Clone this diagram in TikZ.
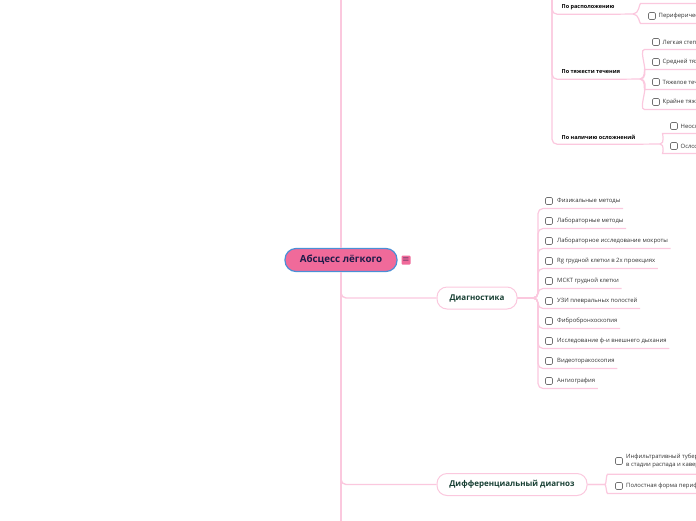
\documentclass[tikz,border=0pt]{standalone}
\usepackage{fontspec}
\setmainfont{Open Sans}
\usetikzlibrary{positioning}
\definecolor{linkpink}{HTML}{FBC8DE}
\definecolor{rootpink}{HTML}{F06A9A}
\definecolor{rootblue}{HTML}{4A8FD6}
\definecolor{rootink}{HTML}{1E1C4A}
\definecolor{branchink}{HTML}{173F33}
\definecolor{leafink}{HTML}{333333}
\definecolor{boxgray}{HTML}{707070}
\tikzset{root/.style={draw=rootblue, line width=1.2pt, fill=rootpink, rounded corners=11pt, minimum width=112pt, minimum height=23pt, font=\fontsize{9.8}{10}\selectfont\bfseries, text=rootink}}
\tikzset{menubtn/.style={fill=rootpink, rounded corners=1pt, minimum size=9pt, inner sep=0pt, text=rootink, font=\fontsize{8}{8}\selectfont}}
\tikzset{branch/.style={draw=linkpink, line width=1pt, fill=white, rounded corners=10pt, minimum height=22pt, font=\fontsize{8}{9}\selectfont\bfseries, text=branchink}}
\tikzset{group/.style={anchor=west, minimum height=14pt, inner xsep=1.5pt, font=\fontsize{5.5}{6}\selectfont\bfseries, text=black}}
\tikzset{leaf/.style={anchor=west, minimum height=14.6pt, inner xsep=2.5pt, font=\fontsize{5.9}{7.6}\selectfont, text=leafink}}
\tikzset{cbox/.style={draw=boxgray, fill=white, line width=0.6pt, rounded corners=1.2pt, minimum size=7pt, inner sep=0pt, outer xsep=3pt}}
\tikzset{trunk/.style={draw=linkpink, line width=1.8pt}}
\tikzset{twig/.style={draw=linkpink, line width=1.2pt, rounded corners=5pt}}

\begin{document}
\begin{tikzpicture}[x=1pt,y=-1pt]
\useasboundingbox (0,0) rectangle (696,520);
\clip (0,0) rectangle (696,520);

% centre
\node[root] (root) at (341,260) {Абсцесс лёгкого};
\node[menubtn] (menu) at (406,260) {$\equiv$};
\coordinate (trunktop) at (341,-10);
\coordinate (trunkbot) at (341,530);

% main branches
\node[branch, minimum width=80pt] (diag) at (477,298) {Диагностика};
\node[branch, minimum width=150pt] (diff) at (512,484.5) {Дифференциальный диагноз};

\draw[trunk] (root.north) -- (trunktop);
\draw[trunk] (root.south) -- (trunkbot);
\draw[twig, line width=1.4pt] (root.south) |- (diag.west);
\draw[twig, line width=1.4pt] (root.south) |- (diff.west);

% classification (upper part)
\coordinate (catfork) at (552,-30);
\node[group] (grp1) at (560,7) {По расположению};
\node[group] (grp2) at (560,72) {По тяжести течения};
\node[group] (grp3) at (560,137) {По наличию осложнений};
\coordinate (g1f) at (633,14);
\coordinate (g2f) at (640,79);
\coordinate (g3f) at (660,144);
\draw[twig] (catfork) |- (grp1.south east) -- (g1f);
\draw[twig] (catfork) |- (grp2.south east) -- (g2f);
\draw[twig] (catfork) |- (grp3.south east) -- (g3f);

\node[leaf] (loc1) at (656,-4) {Центральный};
\node[leaf] (loc2) at (656,16) {Периферический};
\node[cbox] (loc1c) at (652,-4) {};
\node[cbox] (loc2c) at (652,16) {};
\draw[twig] (g1f) to[out=0,in=180] (loc1c.west |- loc1.south) -- (loc1.south east);
\draw[twig] (g1f) to[out=0,in=180] (loc2c.west |- loc2.south) -- (loc2.south east);

\node[leaf] (sev1) at (660,42) {Легкая степень};
\node[leaf] (sev2) at (660,62) {Средней тяжести};
\node[leaf] (sev3) at (660,82) {Тяжелое течение};
\node[leaf] (sev4) at (660,102) {Крайне тяжелое};
\node[cbox] (sev1c) at (656,42) {};
\node[cbox] (sev2c) at (656,62) {};
\node[cbox] (sev3c) at (656,82) {};
\node[cbox] (sev4c) at (656,102) {};
\draw[twig] (g2f) to[out=0,in=180] (sev1c.west |- sev1.south) -- (sev1.south east);
\draw[twig] (g2f) to[out=0,in=180] (sev2c.west |- sev2.south) -- (sev2.south east);
\draw[twig] (g2f) to[out=0,in=180] (sev3c.west |- sev3.south) -- (sev3.south east);
\draw[twig] (g2f) to[out=0,in=180] (sev4c.west |- sev4.south) -- (sev4.south east);

\node[leaf] (cmp1) at (678,126) {Неосложненный};
\node[leaf] (cmp2) at (678,146) {Осложненный};
\node[cbox] (cmp1c) at (674,126) {};
\node[cbox] (cmp2c) at (674,146) {};
\draw[twig] (g3f) to[out=0,in=180] (cmp1c.west |- cmp1.south) -- (cmp1.south east);
\draw[twig] (g3f) to[out=0,in=180] (cmp2c.west |- cmp2.south) -- (cmp2.south east);

% diagnostics
\coordinate (dfork) at (538,298);
\node[leaf] (d1) at (554.5,201) {Физикальные методы};
\node[leaf] (d2) at (554.5,221) {Лабораторные методы};
\node[leaf] (d3) at (554.5,241) {Лабораторное исследование мокроты};
\node[leaf] (d4) at (554.5,261) {Rg грудной клетки в 2х проекциях};
\node[leaf] (d5) at (554.5,281) {МСКТ грудной клетки};
\node[leaf] (d6) at (554.5,301) {УЗИ плевральных полостей};
\node[leaf] (d7) at (554.5,321) {Фибробронхоскопия};
\node[leaf] (d8) at (554.5,341) {Исследование ф-и внешнего дыхания};
\node[leaf] (d9) at (554.5,361) {Видеоторакоскопия};
\node[leaf] (d10) at (554.5,381) {Ангиография};
\node[cbox] (d1c) at (549,201) {};
\node[cbox] (d2c) at (549,221) {};
\node[cbox] (d3c) at (549,241) {};
\node[cbox] (d4c) at (549,261) {};
\node[cbox] (d5c) at (549,281) {};
\node[cbox] (d6c) at (549,301) {};
\node[cbox] (d7c) at (549,321) {};
\node[cbox] (d8c) at (549,341) {};
\node[cbox] (d9c) at (549,361) {};
\node[cbox] (d10c) at (549,381) {};
\draw[twig] (diag.east) -- (dfork) |- (d1.south east);
\draw[twig] (diag.east) -- (dfork) |- (d2.south east);
\draw[twig] (diag.east) -- (dfork) |- (d3.south east);
\draw[twig] (diag.east) -- (dfork) |- (d4.south east);
\draw[twig] (diag.east) -- (dfork) |- (d5.south east);
\draw[twig] (diag.east) -- (dfork) |- (d6.south east);
\draw[twig] (diag.east) -- (dfork) |- (d7.south east);
\draw[twig] (diag.east) -- (dfork) |- (d8.south east);
\draw[twig] (diag.east) -- (dfork) |- (d9.south east);
\draw[twig] (diag.east) -- (dfork) |- (d10.south east);

% differential diagnosis
\coordinate (ffork) at (600,484.5);
\node[leaf, align=left, minimum height=26pt] (dd1) at (623.5,461) {Инфильтративный туберкулез\\в стадии распада и кавернозный туберкулез};
\node[leaf] (dd2) at (623.5,486) {Полостная форма периферического рака};
\node[cbox] (dd1c) at (619,461) {};
\node[cbox] (dd2c) at (619,486) {};
\draw[twig] (diff.east) -- (ffork) to[out=0,in=180] (dd1c.west |- dd1.south) -- (dd1.south east);
\draw[twig] (diff.east) -- (ffork) to[out=0,in=180] (dd2c.west |- dd2.south) -- (dd2.south east);

\end{tikzpicture}
\end{document}
